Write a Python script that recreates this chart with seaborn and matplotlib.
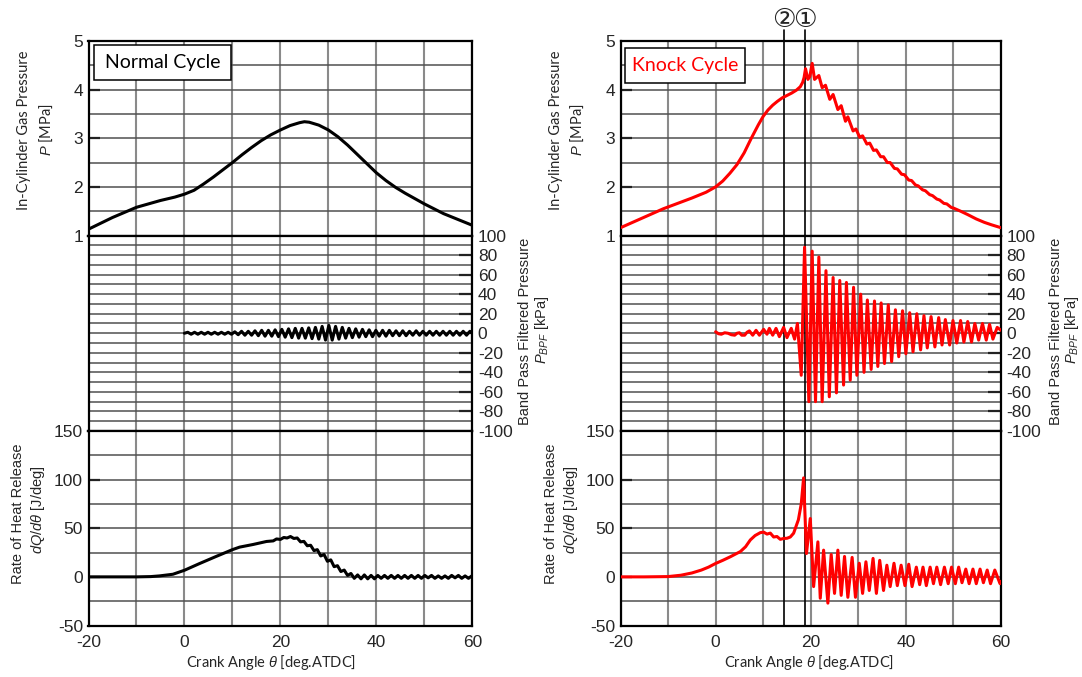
import matplotlib
matplotlib.use("Agg")
import matplotlib.pyplot as plt
from matplotlib.patches import Rectangle
from matplotlib.transforms import blended_transform_factory
import seaborn as sns

# ---------------- data ----------------
# Normal cycle: in-cylinder pressure [MPa]
normal_p_deg = [-20, -15, -10, -5, -2, 0, 2, 4, 6, 8, 10, 12, 14, 16, 18, 20, 22, 24, 25,
                26, 28, 30, 32, 34, 36, 38, 40, 42, 44, 46, 48, 50, 52, 54, 56, 58, 60]
normal_p = [1.13, 1.37, 1.58, 1.72, 1.79, 1.85, 1.93, 2.06, 2.20, 2.35, 2.50, 2.66, 2.81, 2.95,
            3.07, 3.17, 3.26, 3.32, 3.34, 3.33, 3.27, 3.17, 3.03, 2.86, 2.67, 2.48, 2.29, 2.13,
            1.99, 1.87, 1.76, 1.65, 1.55, 1.45, 1.37, 1.29, 1.21]

# Normal cycle: band pass filtered pressure [kPa]
normal_bpf_deg = [0.0, 0.7, 1.4, 2.1, 2.8, 3.5, 4.2, 4.9, 5.6, 6.3, 7.0, 7.7, 8.4, 9.1, 9.8,
                  10.5, 11.2, 11.9, 12.6, 13.3, 14.0, 14.7, 15.4, 16.1, 16.8, 17.5, 18.2, 18.9,
                  19.6, 20.3, 21.0, 21.7, 22.4, 23.1, 23.8, 24.5, 25.2, 25.9, 26.6, 27.3, 28.0,
                  28.7, 29.4, 30.1, 30.8, 31.5, 32.2, 32.9, 33.6, 34.3, 35.0, 35.7, 36.4, 37.1,
                  37.8, 38.5, 39.2, 39.9, 40.6, 41.3, 42.0, 42.7, 43.4, 44.1, 44.8, 45.5, 46.2,
                  46.9, 47.6, 48.3, 49.0, 49.7, 50.4, 51.1, 51.8, 52.5, 53.2, 53.9, 54.6, 55.3,
                  56.0, 56.7, 57.4, 58.1, 58.8, 59.5, 60.0]
normal_bpf = [0, 1, -1, 1, -1, 1, -1, 1, -1, 1, -1, 1, -1, 1, -1,
              1.5, -1.5, 2, -2, 2, -2, 2.5, -2.5, 3, -3, 3, -3, 3.5,
              -3.5, 4, -4, 4.5, -4.5, 5, -5, 5, -5, 5.5, -5.5, 6, -6,
              7, -7, 8, -7, 7, -6, 6, -5, 5, -4.5, 4.5, -4, 4,
              -3.5, 3.5, -3.5, 3, -3, 3, -3, 3, -2.5, 2.5, -2.5, 2.5, -2.5,
              2, -2, 2.5, -2, 2, -2, 2, -2, 2, -2, 2, -2, 2,
              -2, 2, -2, 2, -2, 2, 0]

# Normal cycle: rate of heat release [J/deg]
normal_hrr_deg = [-20, -15, -10, -7, -5.2, -2.4, 0, 3.1, 6.6, 10, 11.5, 14.3, 17.1, 18.5, 19.2,
                  20.0, 20.7, 21.4, 22.1, 22.8, 23.5, 24.2, 24.9, 25.6, 26.3, 27.0, 27.7, 28.4,
                  29.1, 29.8, 30.5, 31.2, 31.9, 32.6, 33.3, 34.0, 34.7, 35.4, 36.1, 36.8, 37.5,
                  38.2, 38.9, 39.6, 40.3, 41.0, 41.7, 42.4, 43.1, 43.8, 44.5, 45.2, 45.9, 46.6,
                  47.3, 48.0, 48.7, 49.4, 50.1, 50.8, 51.5, 52.2, 52.9, 53.6, 54.3, 55.0, 55.7,
                  56.4, 57.1, 57.8, 58.5, 59.2, 59.9]
normal_hrr = [0, 0, 0, 0.3, 1, 2.7, 6.8, 13.6, 21, 28, 30.6, 33.3, 36.4, 37, 39,
              38.5, 40.5, 40, 41.5, 39.5, 40, 36, 36.5, 32, 32.5, 27, 28, 21.5,
              23, 16, 17.5, 10.5, 11.5, 5.5, 7, 1.5, 3.5, -1.5, 2, -2, 2,
              -2, 1.5, -2, 1.5, -1.5, 1.5, -1.5, 1.5, -1.5, 1.5, -1.5, 1.5, -1.5,
              1.5, -1.5, 1.5, -1.5, 1.5, -1, 1.5, -1.5, 1, -1.5, 1, -1.5, 1.5,
              -1, 1.5, -1.5, 1, -1.5, 1]

# Knock cycle: in-cylinder pressure [MPa]
knock_p_deg = [-20, -17, -14, -11, -8, -5, -2, 0, 1.5, 3, 4.5, 6, 7.5, 9, 10, 11, 12, 13, 14,
               15, 16, 17, 17.8, 18.3, 18.6, 18.9, 19.4, 19.8, 20.3, 20.8, 21.7, 22.4, 23.1,
               24.0, 24.7, 25.7, 26.4, 27.3, 27.8, 28.9, 29.5, 30.3, 30.9, 31.8, 32.4, 33.2,
               33.8, 34.7, 35.3, 36.1, 36.7, 37.6, 38.2, 39.1, 39.7, 40.6, 41.2, 42.0, 42.6,
               43.5, 44.1, 45.0, 45.6, 46.5, 47.1, 48.0, 48.6, 49.5, 50.1, 51.5, 53, 54.8,
               56.5, 58, 60]
knock_p = [1.16, 1.29, 1.42, 1.55, 1.66, 1.77, 1.89, 2.00, 2.12, 2.28, 2.46, 2.70, 3.00, 3.28,
           3.45, 3.58, 3.68, 3.76, 3.83, 3.88, 3.93, 3.99, 4.06, 4.15, 4.25, 4.43, 4.21, 4.27,
           4.54, 4.21, 4.29, 4.04, 4.09, 3.80, 3.90, 3.59, 3.67, 3.35, 3.44, 3.15, 3.19, 3.02,
           3.05, 2.88, 2.90, 2.75, 2.76, 2.62, 2.62, 2.50, 2.50, 2.38, 2.37, 2.26, 2.25, 2.14,
           2.13, 2.04, 2.02, 1.94, 1.92, 1.84, 1.82, 1.75, 1.73, 1.66, 1.65, 1.58, 1.56, 1.50,
           1.43, 1.34, 1.27, 1.22, 1.16]

# Knock cycle: band pass filtered pressure [kPa]
knock_bpf_deg = [0.0, 0.6, 1.2, 1.9, 2.6, 3.3, 4.0, 4.5, 5.0, 5.5, 6.1, 6.6, 7.1, 7.8, 8.5, 9.2,
                 10.1, 10.8, 11.3, 12.0, 12.7, 13.4, 14.3, 15.0, 15.9, 16.6, 17.2, 18.0, 18.7,
                 19.6, 20.3, 21.0, 21.7, 22.4, 23.2, 23.9, 24.7, 25.4, 26.1, 26.9, 27.5, 28.3,
                 29.0, 29.7, 30.5, 31.2, 31.9, 32.7, 33.4, 34.1, 34.8, 35.5, 36.3, 37.0, 37.8,
                 38.5, 39.3, 40.0, 40.8, 41.5, 42.3, 43.1, 43.8, 44.5, 45.3, 46.1, 46.9, 47.6,
                 48.3, 49.2, 49.9, 50.7, 51.5, 52.2, 53.0, 53.8, 54.5, 55.3, 56.1, 56.9, 57.6,
                 58.3, 59.2, 60.0]
knock_bpf = [1.5, -0.5, -1, 0.5, 0, -1.5, -2, 0, 0.5, -2, -2, 1, 2.4, -2, 3, -2,
             4, -1, 5, -2, 5, -3.5, 6, -4.5, 5, -6, 10, -43, 88,
             -70, 84, -70, 78, -70, 64, -65, 57, -61, 54, -53, 52, -48,
             47, -43, 40, -40, 34, -37, 33, -34, 31, -31, 29, -29, 24,
             -24, 23, -21, 21, -19, 20, -17, 18, -15, 17, -14, 16, -12,
             14, -12, 13, -10, 13, -9, 12, -9, 10, -7, 10, -7, 9,
             -6, 6, 3]

# Knock cycle: rate of heat release [J/deg]
knock_hrr_deg = [-20, -15, -10, -7.3, -5, -3, -1.5, 0, 1.5, 3.1, 4.2, 5.2, 6.3, 7.3, 8.3, 9.4,
                 10.1, 10.8, 11.5, 12.2, 12.9, 13.6, 14.3, 15.0, 15.7, 16.4, 17.4, 18.0, 18.5,
                 19.1, 19.9, 20.6, 21.5, 22.0, 22.7, 23.6, 24.3, 25.0, 25.7, 26.4, 27.1, 27.8,
                 28.7, 29.4, 30.2, 30.9, 31.6, 32.3, 33.1, 33.8, 34.5, 35.3, 36.0, 36.7, 37.5,
                 38.2, 39.0, 39.8, 40.6, 41.3, 42.2, 42.9, 43.6, 44.3, 45.1, 45.8, 46.5, 47.3,
                 48.1, 48.9, 49.6, 50.4, 51.1, 51.8, 52.6, 53.3, 54.1, 54.8, 55.6, 56.3, 57.1,
                 57.8, 58.7, 59.8, 60]
knock_hrr = [0, 0, 0.3, 1.7, 4, 7, 10, 13.8, 17, 20.7, 23.5, 26, 31, 38, 42.5, 45.5,
             46, 44, 45, 41, 41.5, 38.6, 39.5, 39.7, 41, 44.9, 58.7, 75, 101.8,
             24, 60, -10, 36, -22, 27.5, -27, 23, -17, 27.5, -19, 21, -21,
             20, -21, 14, -17, 15.5, -14, 19, -17, 17, -14, 12, -10, 14,
             -9, 12, -9, 13, -10, 10, -8, 10, -9, 10, -7, 10, -8,
             10, -7, 10, -7, 10, -6, 8, -7, 8, -7, 8, -6, 7,
             -7, 7, -7, -5]

# knock onset markers [deg.ATDC]
marker_deg = [14.3, 18.8]
marker_text = ["②", "①"]

x_ticks = [-20, -10, 0, 10, 20, 30, 40, 50, 60]
x_ticklabels = ["-20", "", "0", "", "20", "", "40", "", "60"]
p_ticks = [1, 1.5, 2, 2.5, 3, 3.5, 4, 4.5, 5]
p_ticklabels = ["1", "", "2", "", "3", "", "4", "", "5"]
bpf_ticks = list(range(-100, 101, 10))
bpf_ticklabels = [str(v) if v % 20 == 0 else "" for v in bpf_ticks]
hrr_ticks = [-50, -25, 0, 25, 50, 75, 100, 125, 150]
hrr_ticklabels = ["-50", "", "0", "", "50", "", "100", "", "150"]

# ---------------- style ----------------
sns.set_theme(style="white")
plt.rcParams["font.family"] = ["Liberation Sans", "DejaVu Sans"]
plt.rcParams["axes.unicode_minus"] = False
plt.rcParams["mathtext.fontset"] = "custom"
plt.rcParams["mathtext.rm"] = "Liberation Sans"
plt.rcParams["mathtext.it"] = "Liberation Sans:italic"
plt.rcParams["mathtext.fallback"] = "stixsans"

W, H = 1082, 677
fig = plt.figure(figsize=(W / 100, H / 100), dpi=100)


def rect(l, t, r, b):
    return [l / W, 1 - b / H, (r - l) / W, (b - t) / H]


ROWS = [(41, 235.5), (235.5, 431), (431, 625.5)]
COLS = [(88.5, 472.3), (620.5, 1001)]
TICK_FONT = 12.5
CAL = ["Lato", "DejaVu Sans"]
ARI = ["Liberation Sans", "DejaVu Sans"]


def style_axes(ax, ylim, yticks, ylabels, right=False, xlabels=False):
    ax.set_xlim(-20, 60)
    ax.set_ylim(*ylim)
    ax.set_xticks(x_ticks)
    ax.set_xticklabels(x_ticklabels if xlabels else [""] * len(x_ticks))
    ax.set_yticks(yticks)
    ax.set_yticklabels(ylabels)
    ax.grid(True, axis="x", color="#8a8a8a", lw=1.5)
    ax.grid(True, axis="y", color="#505050", lw=1.1)
    ax.set_axisbelow(True)
    ax.tick_params(axis="x", direction="in", length=5, width=1.2, color="#333333",
                   labelsize=TICK_FONT, pad=7)
    ax.tick_params(axis="y", direction="in", length=0, width=1.2, color="#333333",
                   labelsize=TICK_FONT, pad=4)
    if right:
        ax.yaxis.tick_right()
        ax.tick_params(axis="y", length=0)
    for s in ax.spines.values():
        s.set_visible(True)
        s.set_color("black")
        s.set_linewidth(1.6)
    ax.set_xlabel("")
    ax.set_ylabel("")


def major_y_ticks(ax, values, right=False):
    # short inward marks at the labelled values
    trans = blended_transform_factory(ax.transAxes, ax.transData)
    xs = [0.965, 1.0] if right else [0.0, 0.03]
    for v in values:
        ax.plot(xs, [v, v], color="#222222", lw=1.6, transform=trans,
                solid_capstyle="butt", zorder=1.5)


series = [
    dict(color="black", p=(normal_p_deg, normal_p), bpf=(normal_bpf_deg, normal_bpf),
         hrr=(normal_hrr_deg, normal_hrr), title="Normal Cycle", box=(94, 45, 231, 80)),
    dict(color="#ff0000", p=(knock_p_deg, knock_p), bpf=(knock_bpf_deg, knock_bpf),
         hrr=(knock_hrr_deg, knock_hrr), title="Knock Cycle", box=(625, 48, 745, 83)),
]

for ci, (cl, cr) in enumerate(COLS):
    d = series[ci]
    ax_p = fig.add_axes(rect(cl, ROWS[0][0], cr, ROWS[0][1]))
    ax_b = fig.add_axes(rect(cl, ROWS[1][0], cr, ROWS[1][1]))
    ax_h = fig.add_axes(rect(cl, ROWS[2][0], cr, ROWS[2][1]))

    sns.lineplot(x=d["p"][0], y=d["p"][1], ax=ax_p, color=d["color"], lw=2.2,
                 estimator=None, sort=False, zorder=3)
    sns.lineplot(x=d["bpf"][0], y=d["bpf"][1], ax=ax_b, color=d["color"], lw=2.2,
                 estimator=None, sort=False, zorder=3)
    sns.lineplot(x=d["hrr"][0], y=d["hrr"][1], ax=ax_h, color=d["color"], lw=2.2,
                 estimator=None, sort=False, zorder=3)

    style_axes(ax_p, (1, 5), p_ticks, p_ticklabels)
    style_axes(ax_b, (-100, 100), bpf_ticks, bpf_ticklabels, right=True)
    style_axes(ax_h, (-50, 150), hrr_ticks, hrr_ticklabels, xlabels=True)
    major_y_ticks(ax_p, [2, 3, 4])
    major_y_ticks(ax_b, [-80, -60, -40, -20, 0, 20, 40, 60, 80], right=True)
    major_y_ticks(ax_h, [0, 50, 100])

    # cycle name box
    bl, bt, br, bb = d["box"]
    fig.patches.append(Rectangle((bl / W, 1 - bb / H), (br - bl) / W, (bb - bt) / H,
                                 transform=fig.transFigure, facecolor="white",
                                 edgecolor="black", lw=1.1, zorder=4))
    fig.text((bl + br) / 2 / W, 1 - (bt + bb) / 2 / H, d["title"], color=d["color"],
             family=CAL, fontsize=14, ha="center", va="center", zorder=5)

    # axis titles
    ylab = [(24, 46), (556, 577)][ci]
    fig.text(ylab[0] / W, 1 - 130 / H, "In-Cylinder Gas Pressure", rotation=90,
             family=CAL, fontsize=10.5, ha="center", va="center")
    fig.text(ylab[1] / W, 1 - 130 / H, "$P$ [MPa]", rotation=90,
             family=CAL, fontsize=10.5, ha="center", va="center")
    blab = [(525, 542), (1056, 1072)][ci]
    fig.text(blab[0] / W, 1 - 331 / H, "Band Pass Filtered Pressure", rotation=90,
             family=ARI, fontsize=10.5, ha="center", va="center")
    fig.text(blab[1] / W, 1 - 330 / H, "$P_{BPF}$ [kPa]", rotation=90,
             family=ARI, fontsize=10.5, ha="center", va="center")
    hlab = [(18, 38), (551, 571)][ci]
    fig.text(hlab[0] / W, 1 - 514 / H, "Rate of Heat Release", rotation=90,
             family=ARI, fontsize=10.5, ha="center", va="center")
    fig.text(hlab[1] / W, 1 - 510 / H, r"$dQ/d\theta$ [J/deg]", rotation=90,
             family=ARI, fontsize=10.5, ha="center", va="center")
    xl = [271, 809][ci]
    fig.text(xl / W, 1 - 663 / H, r"Crank Angle $\theta$ [deg.ATDC]",
             family=CAL, fontsize=10.5, ha="center", va="center")

    if ci == 1:
        span = ROWS[0][1] - ROWS[0][0]
        top_extra = (ROWS[0][0] - 30) / span
        for xv, lab in zip(marker_deg, marker_text):
            ax_p.axvline(xv, ymin=0, ymax=1 + top_extra, color="black", lw=1.2,
                         clip_on=False, zorder=2.5)
            ax_b.axvline(xv, color="black", lw=1.2, zorder=2.5)
            ax_h.axvline(xv, color="black", lw=1.2, zorder=2.5)
            ax_p.text(xv, 1 + (ROWS[0][0] - 20) / span, lab,
                      transform=blended_transform_factory(ax_p.transData, ax_p.transAxes),
                      ha="center", va="center", fontsize=19,
                      family=["DejaVu Sans", "Noto Sans CJK JP"])

fig.savefig("out.png", dpi=100)
